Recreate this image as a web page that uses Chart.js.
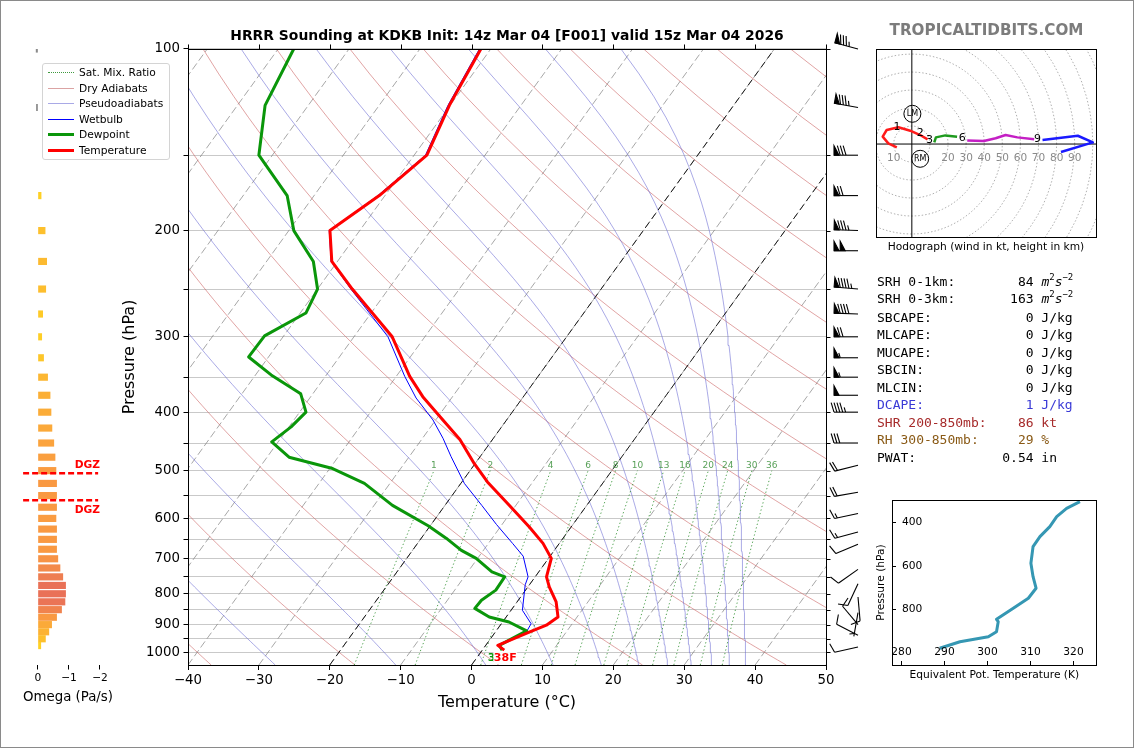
<!DOCTYPE html>
<html>
<head>
<meta charset="utf-8">
<title>HRRR Sounding KDKB</title>
<script src="https://cdn.jsdelivr.net/npm/chart.js@4.4.1/dist/chart.umd.min.js"></script>
<style>
body { margin: 0; background: #fff; }
#page { position: relative; width: 1134px; height: 748px; overflow: hidden; background: #fff; font-family: 'DejaVu Sans', sans-serif; color: #000; }
canvas { position: absolute; }
#frame { position: absolute; left: 0; top: 0; width: 1134px; height: 748px; box-sizing: border-box; border: 1px solid #8a8a8a; pointer-events: none; }
#legend { position: absolute; left: 42px; top: 63px; width: 128px; height: 97px; box-sizing: border-box; border: 1px solid #d4d4d4; border-radius: 3px; background: rgba(255,255,255,0.85); font-size: 10.67px; }
.lg { position: absolute; left: 0; width: 126px; height: 14px; line-height: 14px; }
.lg i { position: absolute; left: 5px; width: 26px; top: 7px; }
.lg span { position: absolute; left: 36px; white-space: nowrap; }
.stat { position: absolute; left: 877px; font-family: 'DejaVu Sans Mono', monospace; font-size: 13px; line-height: 16px; white-space: pre; }
.stat sup { font-size: 9px; line-height: 0; vertical-align: 6px; font-style: normal; }
#brand { position: absolute; left: 866px; width: 241px; top: 21px; text-align: center; font-weight: bold; font-size: 15.2px; color: #7c7c7c; }
#hodocap { position: absolute; left: 866px; width: 240px; top: 240px; text-align: center; font-size: 10.67px; }
</style>
</head>
<body>
<div id="page">
  <canvas id="omega" width="130" height="720" style="left:0;top:0;width:130px;height:720px"></canvas>
  <canvas id="skewt" width="780" height="720" style="left:100px;top:0;width:780px;height:720px"></canvas>
  <canvas id="hodo" width="221" height="189" style="left:876px;top:49px;width:221px;height:189px"></canvas>
  <canvas id="thetae" width="240" height="195" style="left:860px;top:495px;width:240px;height:195px"></canvas>

  <div id="legend">
    <div class="lg" style="top:2px"><i style="border-top:1px dotted #3f9a3f;margin-top:-1px"></i><span>Sat. Mix. Ratio</span></div>
    <div class="lg" style="top:18px"><i style="border-top:1px solid #dba3a3;margin-top:-1px"></i><span>Dry Adiabats</span></div>
    <div class="lg" style="top:33px"><i style="border-top:1px solid #a9a9e6;margin-top:-1px"></i><span>Pseudoadiabats</span></div>
    <div class="lg" style="top:49px"><i style="border-top:1px solid #0000ff;margin-top:-1px"></i><span>Wetbulb</span></div>
    <div class="lg" style="top:64px"><i style="border-top:3px solid #0a960a;margin-top:-2px"></i><span>Dewpoint</span></div>
    <div class="lg" style="top:80px"><i style="border-top:3px solid #ff0000;margin-top:-2px"></i><span>Temperature</span></div>
  </div>

  <div id="brand">TROPICALTIDBITS.COM</div>
  <div id="hodocap">Hodograph (wind in kt, height in km)</div>
  <div id="stats"></div>
  <div id="frame"></div>
</div>

<script>
// sounding profile (pressure in hPa, temperature in C)
const tempPressure = [992, 974, 931, 902, 874, 825, 779, 750, 699, 660, 620, 571, 522, 487, 444, 405, 377, 349, 300, 250, 225, 200, 175, 150, 124, 100];
const tempValues   = [3.1, 1.7, 4.5, 6.5, 7.3, 5.5, 3.0, 1.6, 0.4, -2.3, -5.9, -10.9, -16.4, -20.1, -24.6, -30.0, -34.2, -38.1, -44.6, -55.1, -60.8, -64.2, -60.8, -58.2, -60.1, -61.4];

const dewPressure = [992, 974, 922, 891, 874, 846, 820, 789, 750, 736, 699, 678, 647, 617, 571, 525, 496, 475, 448, 423, 400, 373, 347, 324, 299, 274, 250, 225, 200, 175, 150, 124, 100];
const dewValues   = [2.8, 1.9, 4.3, 0.9, -2.4, -5.3, -5.2, -4.2, -4.3, -6.6, -10.2, -13.1, -16.5, -20.3, -27.4, -33.6, -39.6, -46.9, -50.9, -49.7, -49.1, -51.7, -57.8, -62.8, -62.7, -59.2, -60.0, -63.4, -69.3, -73.8, -81.9, -86.1, -87.8];

const wetPressure = [992, 974, 931, 897, 852, 773, 750, 693, 660, 614, 571, 525, 474, 442, 412, 379, 349, 300, 250, 225, 200, 175, 150, 124, 100];
const wetValues   = [3.0, 1.7, 4.4, 4.2, 1.6, -0.6, -1.0, -3.8, -6.6, -10.8, -14.8, -19.5, -24.1, -27.1, -30.4, -35.0, -38.8, -45.2, -55.3, -60.9, -64.3, -61.0, -58.4, -60.3, -61.6];

const surfaceTempF = 38, surfaceDewF = 37;

// wind barbs (kt, direction wind comes from)
const barbPressure  = [100, 125, 150, 175, 200, 216, 250, 275, 300, 325, 350, 375, 400, 450, 490, 543, 589, 632, 662, 729, 770, 810, 860, 900, 937, 980];
const barbSpeed     = [85, 85, 80, 70, 85, 100, 95, 90, 70, 55, 55, 50, 45, 30, 20, 20, 15, 15, 10, 10, 10, 10, 5, 10, 10, 10];
const barbDirection = [285, 280, 270, 270, 272, 270, 275, 272, 270, 270, 270, 270, 270, 270, 256, 260, 258, 255, 247, 235, 205, 175, 190, 320, 297, 257];

// omega (Pa/s)
const omegaPressure = [100, 125, 175, 200, 225, 250, 275, 300, 325, 350, 375, 400, 425, 450, 475, 500, 525, 550, 575, 600, 625, 650, 675, 700, 725, 750, 775, 800, 825, 850, 875, 900, 925, 950, 975];
const omegaValues   = [0.06, 0.05, -0.10, -0.23, -0.28, -0.25, -0.15, -0.12, -0.18, -0.31, -0.39, -0.42, -0.45, -0.51, -0.55, -0.58, -0.60, -0.60, -0.60, -0.58, -0.60, -0.60, -0.60, -0.64, -0.71, -0.80, -0.89, -0.89, -0.87, -0.76, -0.60, -0.44, -0.35, -0.24, -0.09];
const dgzPressure = [505, 560];
const omegaTicks = [0, -1, -2];

// axes and reference lines
const pressureTicks = [100, 150, 200, 250, 300, 350, 400, 450, 500, 550, 600, 650, 700, 750, 800, 850, 900, 950, 1000];
const tempTicks = [-40, -30, -20, -10, 0, 10, 20, 30, 40, 50];
const isotherms = [-100, -90, -80, -70, -60, -50, -40, -30, -20, -10, 0, 10, 20, 30, 40, 50];
const highlightIsotherms = [-20, 0];
const dryAdiabatTheta = [233.15, 253.15, 273.15, 293.15, 313.15, 333.15, 353.15, 373.15, 393.15, 413.15, 433.15, 453.15, 473.15, 493.15, 513.15];
const moistStartTemp = [-27.7, -10.7, 2.0, 11.5, 18.3, 23.6, 27.7, 31.0, 33.9, 36.4, 38.7];
const mixingRatios = [1, 2, 4, 6, 8, 10, 13, 16, 20, 24, 30, 36];

// hodograph (kt), coloured by height band
const hodoU03 = [-8.3, -13.0, -16.1, -13.9, -7.4, -0.9, 4.6, 8.7];
const hodoV03 = [-1.9, 0.4, 4.1, 7.8, 9.3, 7.4, 5.0, 2.6];
const hodoU36 = [12.4, 13.3, 18.5, 25.0];
const hodoV36 = [0.9, 3.7, 4.8, 4.1];
const hodoU69 = [30.6, 39.8, 46.3, 51.8, 58.3, 67.6];
const hodoV69 = [1.9, 1.7, 3.2, 5.0, 3.7, 2.6];
const hodoU912 = [72.2, 91.7, 100.0, 82.4];
const hodoV912 = [2.2, 4.6, 0.9, -4.4];
const hodoHeightLabels = ['1', '2', '3', '6', '9'];
const hodoLabelU = [-8.2, 4.6, 9.8, 27.9, 69.4];
const hodoLabelV = [9.3, 5.9, 2.2, 3.2, 2.6];
const stormLabels = ['LM', 'RM'];
const stormU = [0.3, 4.6];
const stormV = [16.8, -8.2];
const hodoRings = [10, 20, 30, 40, 50, 60, 70, 80, 90, 100, 110, 120];
const hodoRingLabelU = [-10, 20, 30, 40, 50, 60, 70, 80, 90];

// equivalent potential temperature
const thetaEPressure = [979, 949, 926, 903, 857, 846, 795, 749, 703, 650, 588, 512, 466, 420, 374, 336, 305];
const thetaEValues   = [289.1, 293.8, 300.4, 302.3, 302.7, 302.3, 306.2, 309.7, 311.5, 310.8, 310.3, 310.8, 312.4, 314.7, 316.3, 318.6, 321.7];
const thetaEPTicks = [400, 600, 800];
const thetaEKTicks = [280, 290, 300, 310, 320];

// text panel
const statLabels = ['SRH 0-1km:', 'SRH 0-3km:', 'SBCAPE:', 'MLCAPE:', 'MUCAPE:', 'SBCIN:', 'MLCIN:', 'DCAPE:', 'SHR 200-850mb:', 'RH 300-850mb:', 'PWAT:'];
const statValues = ['84', '163', '0', '0', '0', '0', '0', '1', '86', '29', '0.54'];
const statUnits  = ['m2s-2', 'm2s-2', 'J/kg', 'J/kg', 'J/kg', 'J/kg', 'J/kg', 'J/kg', 'kt', '%', 'in'];
const statColors = ['#000', '#000', '#000', '#000', '#000', '#000', '#000', '#3a3ad6', '#a62a2a', '#8a5a16', '#000'];
const statRowY   = [282, 298.5, 317.5, 334.5, 352.5, 369.5, 387.5, 404.5, 422.5, 440, 457.5];

const P_BOTTOM = 1050, P_TOP = 100, SKEW = 26.67;
const minus = v => (v < 0 ? '\u2212' + Math.abs(v) : String(v));
const skewX = (t, p) => t + SKEW * Math.log(P_BOTTOM / p);
const profile = (ps, ts) => ps.map((p, i) => ({x: skewX(ts[i], p), y: p}));

function sampleLevels(pTop) {
  const out = [];
  for (let p = P_BOTTOM; p >= pTop - 0.01; p -= 10) out.push(p);
  return out;
}

function dryAdiabat(theta) {
  return sampleLevels(P_TOP).map(p => ({x: skewX(theta * Math.pow(p / 1000, 0.2857) - 273.15, p), y: p}));
}

function moistAdiabat(t0) {
  const f = (p, T) => {
    const es = 6.112 * Math.exp(17.67 * (T - 273.15) / (T - 29.65));
    const rs = 0.622 * es / (p - es);
    return (287.04 * T + 2.501e6 * rs) / (1005.7 + 2.501e6 * 2.501e6 * rs * 0.622 / (287.04 * T * T)) / p;
  };
  const pts = [];
  let T = t0 + 273.15;
  const h = -10;
  for (let p = P_BOTTOM; p >= P_TOP - 0.01; p += h) {
    pts.push({x: skewX(T - 273.15, p), y: p});
    const k1 = f(p, T), k2 = f(p + h / 2, T + h / 2 * k1), k3 = f(p + h / 2, T + h / 2 * k2), k4 = f(p + h, T + h * k3);
    T += h / 6 * (k1 + 2 * k2 + 2 * k3 + k4);
  }
  return pts;
}

function mixingDewpoint(w, p) {
  const e = w / 1000 * p / (0.622 + w / 1000);
  const l = Math.log(e / 6.112);
  return 243.5 * l / (17.67 - l);
}

function mixingLine(w) {
  return sampleLevels(500).map(p => ({x: skewX(mixingDewpoint(w, p), p), y: p}));
}

function line(data, color, width, dash, order) {
  return {data, showLine: true, borderColor: color, borderWidth: width, borderDash: dash || [],
          pointRadius: 0, fill: false, tension: 0, order: order, borderJoinStyle: 'round'};
}

Chart.defaults.font.family = "'DejaVu Sans', sans-serif";
Chart.defaults.color = '#000';

// ---------- Skew-T ----------
function drawBarb(ctx, bx, by, speed, dir) {
  const L = 24, H = 9.5, W = 5, S = 2.9;
  const th = dir * Math.PI / 180;
  const ux = Math.sin(th), uy = -Math.cos(th);
  const px = -uy, py = ux;
  const tx = bx + ux * L, ty = by + uy * L;
  ctx.beginPath(); ctx.moveTo(bx, by); ctx.lineTo(tx, ty); ctx.stroke();
  let s = Math.round(speed / 5) * 5;
  const flags = Math.floor(s / 50); s -= flags * 50;
  const full = Math.floor(s / 10); s -= full * 10;
  const half = s >= 5;
  let pos = 0;
  for (let i = 0; i < flags; i++) {
    const x0 = tx - ux * pos, y0 = ty - uy * pos;
    ctx.beginPath();
    ctx.moveTo(x0, y0);
    ctx.lineTo(x0 + px * H, y0 + py * H);
    ctx.lineTo(x0 - ux * W, y0 - uy * W);
    ctx.closePath(); ctx.fill(); ctx.stroke();
    pos += W + 1.2;
  }
  for (let i = 0; i < full; i++) {
    const x0 = tx - ux * pos, y0 = ty - uy * pos;
    ctx.beginPath(); ctx.moveTo(x0, y0);
    ctx.lineTo(x0 + px * H + ux * H * 0.3, y0 + py * H + uy * H * 0.3); ctx.stroke();
    pos += S;
  }
  if (half) {
    if (pos === 0) pos = S;
    const x0 = tx - ux * pos, y0 = ty - uy * pos;
    ctx.beginPath(); ctx.moveTo(x0, y0);
    ctx.lineTo(x0 + px * H * 0.5 + ux * H * 0.15, y0 + py * H * 0.5 + uy * H * 0.15); ctx.stroke();
  }
}

const skewDecor = {
  id: 'skewDecor',
  afterDraw(chart) {
    const {ctx, chartArea: a, scales: {x, y}} = chart;
    ctx.save();
    // mixing ratio labels
    ctx.fillStyle = 'rgba(70,150,70,0.9)';
    ctx.font = "9px 'DejaVu Sans'";
    ctx.textAlign = 'center'; ctx.textBaseline = 'middle';
    mixingRatios.forEach(w => {
      ctx.fillText(String(w), x.getPixelForValue(skewX(mixingDewpoint(w, 500), 500)), y.getPixelForValue(490));
    });
    // frame and mirrored ticks
    ctx.strokeStyle = '#000'; ctx.lineWidth = 1;
    ctx.strokeRect(Math.round(a.left) + 0.5, Math.round(a.top) + 0.5, Math.round(a.right - a.left), Math.round(a.bottom - a.top));
    ctx.beginPath();
    pressureTicks.forEach(p => { const yy = Math.round(y.getPixelForValue(p)) + 0.5; ctx.moveTo(a.right, yy); ctx.lineTo(a.right + 4.5, yy); });
    tempTicks.forEach(t => { const xx = Math.round(x.getPixelForValue(t)) + 0.5; ctx.moveTo(xx, a.top); ctx.lineTo(xx, a.top - 4.5); });
    ctx.stroke();
    // wind barbs
    ctx.fillStyle = '#000'; ctx.lineWidth = 1.1; ctx.lineJoin = 'miter';
    barbPressure.forEach((p, i) => drawBarb(ctx, a.right + 32, y.getPixelForValue(p), barbSpeed[i], barbDirection[i]));
    // surface labels
    const sx = x.getPixelForValue(skewX(tempValues[0], tempPressure[0]));
    const sy = y.getPixelForValue(tempPressure[0]) + 8;
    ctx.font = "bold 11px 'DejaVu Sans'";
    ctx.fillStyle = '#0a960a';
    ctx.fillText(surfaceDewF + 'F', sx - 5, sy);
    const red = surfaceTempF + 'F';
    const w = ctx.measureText(red).width;
    ctx.fillStyle = '#fff';
    ctx.fillRect(sx + 1 - w / 2 - 0.5, sy - 6, w + 1, 12);
    ctx.fillStyle = '#ff0000';
    ctx.fillText(red, sx + 1, sy);
    ctx.restore();
  }
};

const skewSets = [];
isotherms.forEach(t => skewSets.push(line([{x: t, y: P_BOTTOM}, {x: skewX(t, P_TOP), y: P_TOP}], 'rgba(120,120,120,0.65)', 1, [7.5, 3.3], 20)));
highlightIsotherms.forEach(t => skewSets.push(line([{x: t, y: P_BOTTOM}, {x: skewX(t, P_TOP), y: P_TOP}], '#1a1a1a', 1, [7, 4], 15)));
dryAdiabatTheta.forEach(th => skewSets.push(line(dryAdiabat(th), 'rgba(200,90,90,0.55)', 1, [], 19)));
moistStartTemp.forEach(t => skewSets.push(line(moistAdiabat(t), 'rgba(100,100,210,0.55)', 1, [], 18)));
mixingRatios.forEach(w => skewSets.push(line(mixingLine(w), 'rgba(40,140,40,0.8)', 1, [1.3, 2.4], 17)));
skewSets.push(line(profile(wetPressure, wetValues), '#0000ff', 1, [], 3));
skewSets.push(line(profile(dewPressure, dewValues), '#0a960a', 3, [], 2));
skewSets.push(line(profile(tempPressure, tempValues), '#ff0000', 3, [], 1));

new Chart(document.getElementById('skewt'), {
  type: 'scatter',
  data: {datasets: skewSets},
  options: {
    responsive: false, animation: false, devicePixelRatio: 1, events: [],
    layout: {padding: {left: 0, top: 0, right: 54, bottom: 0}},
    plugins: {
      legend: {display: false}, tooltip: {enabled: false},
      title: {display: true, fullSize: false, text: 'HRRR Sounding at KDKB Init: 14z Mar 04 [F001] valid 15z Mar 04 2026',
              font: {size: 13.9, weight: 'bold'}, color: '#000', padding: {top: 27.6, bottom: 4.7}}
    },
    scales: {
      x: {
        type: 'linear', min: -40, max: 50,
        afterBuildTicks: s => { s.ticks = tempTicks.map(v => ({value: v})); },
        afterFit: s => { s.height = 55; },
        ticks: {font: {size: 13.33}, color: '#000', padding: 3, callback: v => minus(v)},
        grid: {drawOnChartArea: false, drawTicks: true, tickLength: 5, tickColor: '#000'},
        border: {display: false},
        title: {display: true, text: 'Temperature (\u00b0C)', font: {size: 16}, color: '#000', padding: {top: 0, bottom: 8}}
      },
      y: {
        type: 'logarithmic', reverse: true, min: P_TOP, max: P_BOTTOM,
        afterBuildTicks: s => { s.ticks = pressureTicks.map(v => ({value: v})); },
        afterFit: s => { s.width = 88; },
        ticks: {font: {size: 13.33}, color: '#000', padding: 3.5, callback: v => (v % 100 === 0 ? String(v) : '')},
        grid: {color: '#c9c9c9', lineWidth: 1, drawTicks: true, tickLength: 4.5, tickColor: '#000'},
        border: {display: false},
        title: {display: true, text: 'Pressure (hPa)', font: {size: 16}, color: '#000', padding: {top: 20.4, bottom: 0}}
      }
    }
  },
  plugins: [skewDecor]
});

// ---------- Omega panel ----------
function omegaColor(w) {
  if (w >= 0) return '#8a8a8a';
  const t = Math.min(1, -w / 0.9);
  const stops = [[0, [255, 220, 30]], [0.35, [252, 182, 50]], [0.65, [250, 155, 65]], [1, [232, 112, 88]]];
  for (let i = 1; i < stops.length; i++) {
    if (t <= stops[i][0]) {
      const [t0, c0] = stops[i - 1], [t1, c1] = stops[i];
      const f = (t - t0) / (t1 - t0);
      return 'rgb(' + c0.map((c, k) => Math.round(c + (c1[k] - c) * f)).join(',') + ')';
    }
  }
  return 'rgb(232,112,88)';
}

const omegaDecor = {
  id: 'omegaDecor',
  afterDraw(chart) {
    const {ctx, scales: {x, y}} = chart;
    ctx.save();
    ctx.strokeStyle = '#ff0000'; ctx.fillStyle = '#ff0000';
    ctx.lineWidth = 2.5; ctx.setLineDash([6, 3]);
    ctx.font = "bold 10.67px 'DejaVu Sans'";
    ctx.textAlign = 'right'; ctx.textBaseline = 'middle';
    dgzPressure.forEach((p, i) => {
      const yy = y.getPixelForValue(p);
      ctx.beginPath(); ctx.moveTo(x.getPixelForValue(0.48), yy); ctx.lineTo(x.getPixelForValue(-1.94), yy); ctx.stroke();
      ctx.fillText('DGZ', x.getPixelForValue(-2.0), i === 0 ? yy - 8 : yy + 10);
    });
    ctx.restore();
  }
};

new Chart(document.getElementById('omega'), {
  type: 'bar',
  data: {datasets: [{
    data: omegaPressure.map((p, i) => ({x: omegaValues[i], y: p})),
    backgroundColor: omegaValues.map(omegaColor),
    borderWidth: 0, barThickness: 6.5
  }]},
  options: {
    indexAxis: 'y', responsive: false, animation: false, devicePixelRatio: 1, events: [],
    layout: {padding: {left: 22, right: 16, top: 49, bottom: 0}},
    plugins: {legend: {display: false}, tooltip: {enabled: false}},
    scales: {
      y: {type: 'logarithmic', reverse: true, min: P_TOP, max: P_BOTTOM, display: false},
      x: {
        type: 'linear', reverse: true, min: -2.452, max: 0.516,
        afterBuildTicks: s => { s.ticks = omegaTicks.map(v => ({value: v})); },
        afterFit: s => { s.height = 55; },
        ticks: {font: {size: 10.67}, color: '#000', padding: 2, callback: v => minus(v)},
        grid: {drawOnChartArea: false, drawTicks: true, tickLength: 4.5, tickColor: '#000'},
        border: {display: false},
        title: {display: true, text: 'Omega (Pa/s)', font: {size: 13.33}, color: '#000', padding: {top: 0, bottom: 14}}
      }
    }
  },
  plugins: [omegaDecor]
});

// ---------- Hodograph ----------
const hodoPts = (us, vs) => us.map((u, i) => ({x: u, y: vs[i]}));
const hodoSets = [];
hodoRings.forEach(r => {
  const ring = [];
  for (let a = 0; a <= 360; a += 5) ring.push({x: r * Math.cos(a * Math.PI / 180), y: r * Math.sin(a * Math.PI / 180)});
  hodoSets.push(line(ring, 'rgba(150,150,150,0.75)', 1, [1.5, 2], 10));
});
hodoSets.push(line([{x: -30, y: 0}, {x: 120, y: 0}], '#000', 1, [], 9));
hodoSets.push(line([{x: 0, y: -60}, {x: 0, y: 60}], '#000', 1, [], 9));
hodoSets.push(line(hodoPts(hodoU03, hodoV03), '#ff1a1a', 2.5, [], 1));
hodoSets.push(line(hodoPts(hodoU36, hodoV36), '#1e9a1e', 2.5, [], 1));
hodoSets.push(line(hodoPts(hodoU69, hodoV69), '#c41fc4', 2.5, [], 1));
hodoSets.push(line(hodoPts(hodoU912, hodoV912), '#1a1aff', 2.5, [], 1));

const hodoDecor = {
  id: 'hodoDecor',
  afterDraw(chart) {
    const {ctx, chartArea: a, scales: {x, y}} = chart;
    ctx.save();
    ctx.textAlign = 'center'; ctx.textBaseline = 'middle';
    ctx.font = "10.5px 'DejaVu Sans'"; ctx.fillStyle = '#8a8a8a';
    const y0 = y.getPixelForValue(0);
    hodoRingLabelU.forEach(u => ctx.fillText(String(Math.abs(u)), x.getPixelForValue(u), y0 + 14));
    ctx.font = "11px 'DejaVu Sans'"; ctx.fillStyle = '#000';
    hodoHeightLabels.forEach((t, i) => ctx.fillText(t, x.getPixelForValue(hodoLabelU[i]), y.getPixelForValue(hodoLabelV[i])));
    ctx.font = "8px 'DejaVu Sans'"; ctx.lineWidth = 1; ctx.strokeStyle = '#000';
    stormLabels.forEach((t, i) => {
      const cx = x.getPixelForValue(stormU[i]), cy = y.getPixelForValue(stormV[i]);
      ctx.beginPath(); ctx.arc(cx, cy, 8.5, 0, Math.PI * 2); ctx.stroke();
      ctx.fillText(t, cx, cy);
    });
    ctx.strokeRect(a.left + 0.5, a.top + 0.5, a.right - a.left - 1, a.bottom - a.top - 1);
    ctx.restore();
  }
};

new Chart(document.getElementById('hodo'), {
  type: 'scatter',
  data: {datasets: hodoSets},
  options: {
    responsive: false, animation: false, devicePixelRatio: 1, events: [],
    layout: {padding: 0},
    plugins: {legend: {display: false}, tooltip: {enabled: false}},
    scales: {
      x: {type: 'linear', min: -19.8, max: 102.3, display: false},
      y: {type: 'linear', min: -52.2, max: 52.8, display: false}
    }
  },
  plugins: [hodoDecor]
});

// ---------- Theta-e ----------
const thetaDecor = {
  id: 'thetaDecor',
  afterDraw(chart) {
    const {ctx, chartArea: a, scales: {x, y}} = chart;
    ctx.save();
    ctx.strokeStyle = '#000'; ctx.lineWidth = 1; ctx.fillStyle = '#000';
    ctx.strokeRect(Math.round(a.left) + 0.5, Math.round(a.top) + 0.5, Math.round(a.right - a.left) - 1, Math.round(a.bottom - a.top));
    ctx.font = "10.67px 'DejaVu Sans'";
    ctx.beginPath();
    ctx.textAlign = 'left'; ctx.textBaseline = 'middle';
    thetaEPTicks.forEach(p => {
      const yy = Math.round(y.getPixelForValue(p)) + 0.5;
      ctx.moveTo(a.left, yy); ctx.lineTo(a.left + 4, yy);
      ctx.fillText(String(p), a.left + 10, yy);
    });
    ctx.textAlign = 'center';
    thetaEKTicks.forEach(k => {
      const xx = Math.round(x.getPixelForValue(k)) + 0.5;
      ctx.moveTo(xx, a.bottom); ctx.lineTo(xx, a.bottom - 4);
      ctx.fillText(String(k), xx, a.bottom - 13);
    });
    ctx.stroke();
    ctx.restore();
  }
};

new Chart(document.getElementById('thetae'), {
  type: 'scatter',
  data: {datasets: [line(thetaEPressure.map((p, i) => ({x: thetaEValues[i], y: p})), '#3597b3', 3, [], 1)]},
  options: {
    responsive: false, animation: false, devicePixelRatio: 1, events: [],
    layout: {padding: {left: 0, top: 5, right: 3.3, bottom: 0}},
    plugins: {legend: {display: false}, tooltip: {enabled: false}},
    scales: {
      x: {
        type: 'linear', min: 278, max: 325.6,
        afterFit: s => { s.height = 25; },
        ticks: {display: false}, grid: {display: false}, border: {display: false},
        title: {display: true, text: 'Equivalent Pot. Temperature (K)', font: {size: 10.67}, color: '#000', padding: {top: 0, bottom: 8.6}}
      },
      y: {
        type: 'linear', reverse: true, min: 297.5, max: 1056,
        afterFit: s => { s.width = 32; },
        ticks: {display: false}, grid: {display: false}, border: {display: false},
        title: {display: true, text: 'Pressure (hPa)', font: {size: 10.67}, color: '#000', padding: {top: 14.6, bottom: 0}}
      }
    }
  },
  plugins: [thetaDecor]
});

// ---------- Stats text ----------
const statsBox = document.getElementById('stats');
statLabels.forEach((lab, i) => {
  const row = document.createElement('div');
  row.className = 'stat';
  row.style.top = (statRowY[i] - 8) + 'px';
  row.style.color = statColors[i];
  const pad = ' '.repeat(Math.max(1, 20 - lab.length - statValues[i].length));
  const unit = statUnits[i] === 'm2s-2' ? '<i>m</i><sup>2</sup><i>s</i><sup>\u22122</sup>' : statUnits[i];
  row.innerHTML = lab + pad + statValues[i] + ' ' + unit;
  statsBox.appendChild(row);
});
</script>
</body>
</html>
